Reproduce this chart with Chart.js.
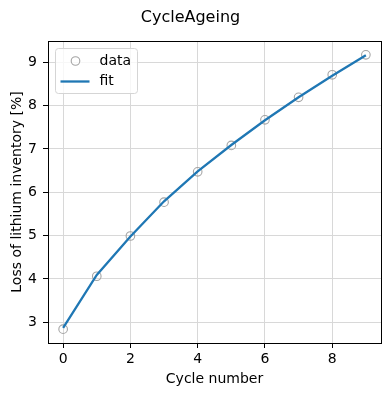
<!DOCTYPE html>
<html>
<head>
<meta charset="utf-8">
<script src="https://cdn.jsdelivr.net/npm/chart.js@4"></script>
<style>
html,body{margin:0;padding:0;background:#fff;}
#wrap{width:390px;height:396px;position:relative;}
</style>
</head>
<body>
<div id="wrap"><canvas id="c" width="390" height="396"></canvas></div>
<script>
const cycles = [0, 1, 2, 3, 4, 5, 6, 7, 8, 9];
const lossData = [2.84, 4.06, 4.99, 5.77, 6.47, 7.08, 7.67, 8.19, 8.71, 9.17];
const lossFit = [2.87, 4.09, 4.98, 5.79, 6.48, 7.09, 7.66, 8.19, 8.69, 9.16];
const xTicks = [0, 2, 4, 6, 8];
const yTicks = [3, 4, 5, 6, 7, 8, 9];
const titleText = 'CycleAgeing';
const xLabel = 'Cycle number';
const yLabel = 'Loss of lithium inventory [%]';

const FONT = 'DejaVu Sans';
const GRID = '#d8d8d8';

const framePlugin = {
  id: 'frame',
  afterDatasetsDraw(chart) {
    const {ctx, chartArea: a} = chart;
    ctx.save();
    ctx.strokeStyle = '#000';
    ctx.lineWidth = 1;
    ctx.strokeRect(Math.round(a.left) + 0.5, Math.round(a.top) + 0.5,
                   Math.round(a.right - a.left), Math.round(a.bottom - a.top));
    ctx.restore();
  }
};

const legendPlugin = {
  id: 'boxLegend',
  afterDraw(chart) {
    const {ctx, chartArea: a} = chart;
    const x0 = a.left + 7.5, y0 = a.top + 7.5, w = 82, h = 45;
    ctx.save();
    ctx.fillStyle = 'rgba(255,255,255,0.8)';
    ctx.strokeStyle = '#d5d5d5';
    ctx.lineWidth = 1;
    ctx.beginPath();
    ctx.roundRect(x0, y0, w, h, 3);
    ctx.fill();
    ctx.stroke();
    const ds = chart.data.datasets;
    ctx.font = '14px "' + FONT + '"';
    ctx.textBaseline = 'middle';
    ctx.fillStyle = '#000';
    const d = ds.find(s => s.label === 'data');
    const f = ds.find(s => s.label === 'fit');
    let yy = y0 + 12.5;
    ctx.beginPath();
    ctx.strokeStyle = d.borderColor;
    ctx.lineWidth = 1.1;
    ctx.arc(x0 + 20, yy, 4.3, 0, Math.PI * 2);
    ctx.stroke();
    ctx.fillText(d.label, x0 + 44, yy);
    yy = y0 + 33;
    ctx.beginPath();
    ctx.strokeStyle = f.borderColor;
    ctx.lineWidth = 2.3;
    ctx.moveTo(x0 + 5, yy);
    ctx.lineTo(x0 + 34, yy);
    ctx.stroke();
    ctx.fillStyle = '#000';
    ctx.fillText(f.label, x0 + 44, yy);
    ctx.restore();
  }
};

new Chart(document.getElementById('c'), {
  type: 'scatter',
  data: {
    datasets: [
      {
        label: 'data',
        data: cycles.map((c, i) => ({x: c, y: lossData[i]})),
        showLine: false,
        borderColor: '#a4a4a4',
        backgroundColor: 'rgba(0,0,0,0)',
        pointRadius: 4.3,
        pointBorderWidth: 1.1,
        pointHoverRadius: 4.3,
        order: 2
      },
      {
        label: 'fit',
        data: cycles.map((c, i) => ({x: c, y: lossFit[i]})),
        showLine: true,
        borderColor: '#1f77b4',
        backgroundColor: '#1f77b4',
        borderWidth: 2.3,
        pointRadius: 0,
        tension: 0,
        order: 1
      }
    ]
  },
  plugins: [framePlugin, legendPlugin],
  options: {
    responsive: false,
    animation: false,
    devicePixelRatio: 1,
    layout: {padding: {left: 0, right: 9, top: 0, bottom: 0}},
    plugins: {
      legend: {display: false},
      tooltip: {enabled: false},
      title: {
        display: true,
        text: titleText,
        color: '#000',
        font: {family: FONT, size: 16, weight: 'normal'},
        padding: {top: 8, bottom: 13.8}
      }
    },
    scales: {
      x: {
        type: 'linear',
        min: -0.45,
        max: 9.45,
        afterFit(s) { s.height = 53; },
        afterBuildTicks(s) { s.ticks = xTicks.map(v => ({value: v})); },
        ticks: {
          color: '#000',
          font: {family: FONT, size: 14},
          padding: 3,
          maxRotation: 0,
          autoSkip: false
        },
        grid: {color: GRID, lineWidth: 1, tickLength: 5, tickColor: '#000', drawTicks: true},
        border: {display: false},
        title: {
          display: true,
          text: xLabel,
          color: '#000',
          font: {family: FONT, size: 14},
          padding: {top: 0, bottom: 8.6}
        }
      },
      y: {
        type: 'linear',
        min: 2.52,
        max: 9.49,
        afterFit(s) { s.width = 48; },
        afterBuildTicks(s) { s.ticks = yTicks.map(v => ({value: v})); },
        ticks: {
          color: '#000',
          font: {family: FONT, size: 14},
          padding: 6,
          autoSkip: false
        },
        grid: {color: GRID, lineWidth: 1, tickLength: 5, tickColor: '#000', drawTicks: true},
        border: {display: false},
        title: {
          display: true,
          text: yLabel,
          color: '#000',
          font: {family: FONT, size: 14},
          padding: {top: 8.6, bottom: 0}
        }
      }
    }
  }
});
</script>
</body>
</html>
